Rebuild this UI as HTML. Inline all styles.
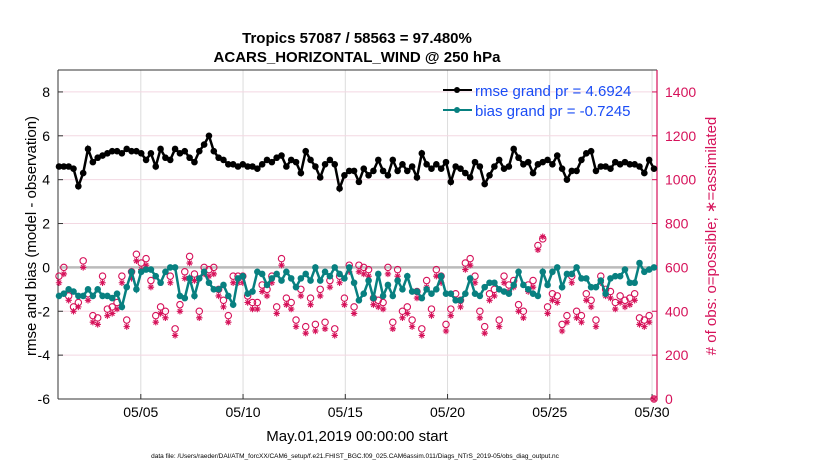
<!DOCTYPE html>
<html><head><meta charset="utf-8"><style>
body{margin:0;background:#fff;}
svg{display:block;font-family:"Liberation Sans",Arial,sans-serif;}
</style></head><body>
<svg id="chart" width="830" height="470" viewBox="0 0 830 470" xmlns="http://www.w3.org/2000/svg">
<text x="357" y="43" font-size="15" font-weight="bold" text-anchor="middle">Tropics 57087 / 58563 = 97.480%</text>
<text x="357" y="62" font-size="15" font-weight="bold" text-anchor="middle">ACARS_HORIZONTAL_WIND @ 250 hPa</text>
<g id="grid"></g>
<g id="axes"></g>
<g id="marks"></g>
<text transform="translate(36,236) rotate(-90)" font-size="15" text-anchor="middle">rmse and bias (model - observation)</text>
<text transform="translate(716,236) rotate(-90)" font-size="15" fill="#d6125a" text-anchor="middle"># of obs: o=possible; ∗=assimilated</text>
<text x="357" y="441" font-size="15" text-anchor="middle">May.01,2019 00:00:00 start</text>
<text x="355" y="458" font-size="6.5" text-anchor="middle">data file: /Users/raeder/DAI/ATM_forcXX/CAM6_setup/f.e21.FHIST_BGC.f09_025.CAM6assim.011/Diags_NTrS_2019-05/obs_diag_output.nc</text>
<g>
<line x1="443" y1="90" x2="472" y2="90" stroke="#000" stroke-width="2"/><circle cx="457" cy="90" r="3" fill="#000"/>
<text x="475" y="96" font-size="15" fill="#1a4cf5">rmse grand pr = 4.6924</text>
<line x1="443" y1="110" x2="472" y2="110" stroke="#088080" stroke-width="2"/><circle cx="457" cy="110" r="3" fill="#088080"/>
<text x="475" y="116" font-size="15" fill="#1a4cf5">bias grand pr = -0.7245</text>
</g>
</svg>
<script>
const rmse=[4.6,4.6,4.6,4.5,3.7,4.3,5.4,4.8,5.0,5.1,5.2,5.3,5.3,5.2,5.4,5.3,5.3,5.2,4.9,5.2,4.6,5.4,5.0,4.9,5.4,5.2,5.3,5.0,4.8,5.3,5.6,6.0,5.3,5.0,4.9,4.7,4.7,4.6,4.7,4.6,4.6,4.5,4.7,4.9,4.8,5.0,5.1,4.6,4.9,4.8,4.3,5.3,4.9,4.6,4.1,4.7,4.9,4.7,3.6,4.2,4.4,4.4,3.9,4.5,4.2,4.4,4.9,4.4,4.2,4.9,4.4,4.7,4.4,4.6,4.1,5.2,4.7,4.5,4.7,4.5,4.8,3.9,4.6,4.5,4.3,4.1,4.8,4.6,3.8,4.2,4.6,4.9,4.5,4.6,5.4,5.0,4.7,4.8,4.3,4.7,4.8,4.9,4.7,5.1,4.5,4.0,4.4,4.4,4.9,5.2,5.3,4.4,4.6,4.6,4.5,4.8,4.7,4.8,4.7,4.7,4.6,4.3,4.9,4.5];
const bias=[-1.3,-1.2,-1.0,-1.1,-1.3,-1.3,-1.0,-1.3,-1.0,-1.3,-1.3,-1.4,-1.2,-1.8,-0.9,-0.2,-1.0,-0.2,-0.1,-0.1,-0.4,-0.7,-0.2,0.0,0.0,-1.3,-1.4,-0.5,-1.3,-0.5,-0.2,-0.7,-1.0,-1.0,-0.8,-1.3,-1.7,-0.5,-0.4,-1.2,-1.1,-0.2,-0.3,-0.8,-0.5,-0.3,-0.6,-0.2,-0.5,-0.9,-0.5,-0.3,-0.6,0.0,-0.6,-0.2,-0.4,0.0,-0.3,-0.5,0.0,-0.7,-1.5,-1.2,-0.6,-1.4,-0.3,-1.3,-0.8,-1.3,-0.6,-1.0,-0.4,-1.1,-1.1,-1.4,-1.0,-1.2,-1.0,-0.4,-1.2,-1.2,-1.5,-1.5,-1.2,-0.5,-1.2,-1.3,-0.9,-0.7,-0.7,-1.0,-1.1,-1.2,-0.8,-0.2,-0.8,-1.0,-1.2,-1.3,-0.2,-0.8,-0.2,0.0,-0.9,-0.3,-0.3,0.0,-0.5,-0.5,-0.9,-0.9,-0.6,-1.2,-0.5,-0.4,-0.4,-0.1,-0.7,-0.7,0.2,-0.2,-0.1,0.0];
const possible=[560,600,470,420,440,630,480,380,370,560,410,420,440,560,360,580,660,620,640,540,380,420,400,560,320,430,580,650,570,400,600,590,600,500,450,380,560,560,560,470,440,440,520,500,560,420,640,460,440,360,500,330,460,340,500,350,540,320,560,460,610,420,610,600,590,460,450,440,600,350,590,400,420,360,490,320,540,410,590,560,340,410,480,450,620,640,560,400,330,480,500,360,560,520,540,430,400,520,540,700,730,420,480,470,340,380,560,400,380,480,450,360,560,500,490,440,470,450,460,480,370,360,380,0];
const assimilated=[530,570,450,400,420,600,450,350,340,530,380,390,410,530,330,550,630,590,610,510,350,390,370,530,290,400,550,620,540,370,570,560,570,470,420,350,530,530,530,440,410,410,490,470,530,390,610,430,410,330,470,300,430,310,470,320,510,290,530,430,580,390,580,570,560,430,420,410,570,320,560,370,390,330,460,290,510,380,560,530,310,380,450,420,590,610,530,370,300,450,470,330,530,490,510,400,370,490,510,680,740,390,450,440,310,350,530,370,350,450,420,330,530,470,460,410,440,420,430,450,340,330,350,0];
const yLeftTicks=[-6,-4,-2,0,2,4,6,8];
const yRightTicks=[0,200,400,600,800,1000,1200,1400];
const xTickDays=[5,10,15,20,25,30];
const xTickLabels=["05/05","05/10","05/15","05/20","05/25","05/30"];

const NS="http://www.w3.org/2000/svg";
const L=58,R=657,T=70,B=399;
const dayW=20.45;
const N=rmse.length;
const xOf=i=>59+i*(654-59)/(N-1);
const xDay=d=>59+(d-1)*dayW;
const yL=v=>B-(v+6)*(B-T)/15;
const yR=c=>B-c*(B-T)/1500;
function mk(tag,attrs,parent){const e=document.createElementNS(NS,tag);for(const k in attrs)e.setAttribute(k,attrs[k]);parent.appendChild(e);return e;}
const grid=document.getElementById('grid'),axes=document.getElementById('axes'),marks=document.getElementById('marks');
mk('rect',{x:L,y:T,width:R-L,height:B-T,fill:'#fff'},grid);
xTickDays.forEach((d,i)=>{
  const g=mk('line',{x1:xDay(d),x2:xDay(d),y1:T,y2:B,stroke:'#dcdcdc','stroke-width':1},grid);
  
  
  const t=mk('text',{x:xDay(d),y:B+18,'font-size':14,'text-anchor':'middle'},axes);
  t.textContent=xTickLabels[i];
  
  
  mk('line',{x1:xDay(d),x2:xDay(d),y1:B,y2:B-5,stroke:'#333'},axes);
});
yLeftTicks.forEach(v=>{
  const g=mk('line',{x1:L,x2:R,y1:yL(v),y2:yL(v),stroke:'#f3d8e2','stroke-width':1},grid);
  
  
  mk('line',{x1:L,x2:L+5,y1:yL(v),y2:yL(v),stroke:'#333'},axes);
  const t=mk('text',{x:L-8,y:yL(v)+5,'font-size':14,'text-anchor':'end'},axes);
  t.textContent=v;
  
  
});
yRightTicks.forEach(c=>{
  mk('line',{x1:R,x2:R-5,y1:yR(c),y2:yR(c),stroke:'#d6125a'},axes);
  const t=mk('text',{x:R+8,y:yR(c)+5,'font-size':14,fill:'#d6125a'},axes);
  t.textContent=c;
  
  
});
mk('line',{x1:L,x2:R,y1:T,y2:T,stroke:'#333'},axes);
mk('line',{x1:L,x2:R,y1:B,y2:B,stroke:'#333'},axes);
mk('line',{x1:L,x2:L,y1:T,y2:B,stroke:'#333'},axes);
mk('line',{x1:R,x2:R,y1:T,y2:B,stroke:'#d6125a','stroke-width':1.2},axes);
const zl=mk('line',{x1:L,x2:R,y1:yL(0),y2:yL(0),stroke:'#bbb','stroke-width':2.5},marks);


possible.forEach((c,i)=>{
  const p=mk('circle',{cx:xOf(i),cy:yR(c),r:3.2,fill:'none',stroke:'#d6125a','stroke-width':1.1},marks);
  
  
});
assimilated.forEach((c,i)=>{
  const x=xOf(i),y=yR(c),s=3.2;
  const d=`M${x-s},${y}H${x+s}M${x},${y-s}V${y+s}M${x-s*0.7},${y-s*0.7}L${x+s*0.7},${y+s*0.7}M${x-s*0.7},${y+s*0.7}L${x+s*0.7},${y-s*0.7}`;
  const a=mk('path',{d:d,stroke:'#d6125a','stroke-width':1.1,fill:'none'},marks);
  
  
});
function series(arr,color,name,r){
  const pl=mk('polyline',{points:arr.map((v,i)=>xOf(i)+','+yL(v)).join(' '),fill:'none',stroke:color,'stroke-width':2.5},marks);
  
  
  arr.forEach((v,i)=>{
    const c=mk('circle',{cx:xOf(i),cy:yL(v),r:r,fill:color},marks);
    
    
  });
}
series(bias,'#088080','bias',3.3);
series(rmse,'#000','rmse',3.3);
</script>
</body></html>
